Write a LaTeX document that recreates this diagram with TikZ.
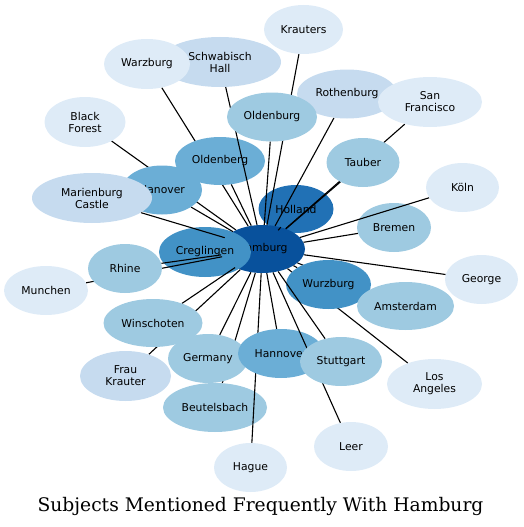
\documentclass[tikz,border=0pt]{standalone}
\usepackage{fontspec}
\usetikzlibrary{shapes.geometric}
\newfontfamily\labfont{DejaVu Sans}
\newfontfamily\titlefont{DejaVu Serif}
\definecolor{bA}{HTML}{DEEBF7}
\definecolor{bB}{HTML}{C6DBEF}
\definecolor{bC}{HTML}{9ECAE1}
\definecolor{bD}{HTML}{6BAED6}
\definecolor{bE}{HTML}{4292C6}
\definecolor{bF}{HTML}{2171B5}
\definecolor{bG}{HTML}{08519C}
\pgfdeclarelayer{lA}\pgfdeclarelayer{lB}\pgfdeclarelayer{lC}\pgfdeclarelayer{lD}
\pgfdeclarelayer{lE}\pgfdeclarelayer{lF}\pgfdeclarelayer{lG}\pgfdeclarelayer{lH}
\pgfsetlayers{lA,lB,lC,lD,lE,lF,lG,lH,main}
\tikzset{
  nd/.style={ellipse, draw=none, inner sep=0pt, minimum height=49pt, align=center,
    font=\labfont\fontsize{10.8}{12}\selectfont, text=black},
  edge/.style={draw=black, line width=1.1pt},
}
\begin{document}
\begin{tikzpicture}[x=1pt,y=-1pt]
\useasboundingbox (0,0) rectangle (523,527);
% ---------- nodes ----------
\begin{pgfonlayer}{lA}
\node[nd,fill=bF,minimum width=75pt,minimum height=48pt] (holland) at (296,209) {Holland};
\node[nd,fill=bG,minimum width=85pt,minimum height=48pt] (hamburg) at (262.5,249) {Hamburg};
\end{pgfonlayer}
\begin{pgfonlayer}{lB}
\node[nd,fill=bE,minimum width=92pt,minimum height=50pt] (creglingen) at (205,252) {Creglingen};
\end{pgfonlayer}
\begin{pgfonlayer}{lD}
\node[nd,fill=bC,minimum width=104pt] (beutelsbach) at (215,407.5) {Beutelsbach};
\node[nd,fill=bD,minimum width=90pt,minimum height=48pt] (oldenberg) at (220,161) {Oldenberg};
\node[nd,fill=bC,minimum width=74pt] (bremen) at (394,227.5) {Bremen};
\end{pgfonlayer}
\begin{pgfonlayer}{lF}
\node[nd,fill=bB,minimum width=122pt,minimum height=50pt] (schwabisch) at (220,62) {Schwabisch\\Hall};
\node[nd,fill=bA,minimum width=86pt,minimum height=50pt] (warzburg) at (147,64) {Warzburg};
\node[nd,fill=bA,minimum width=79pt] (krauters) at (303.5,29.5) {Krauters};
\node[nd,fill=bB,minimum width=100pt] (rothenburg) at (347,94) {Rothenburg};
\node[nd,fill=bC,minimum width=90pt] (oldenburg) at (272,117) {Oldenburg};
\node[nd,fill=bA,minimum width=104pt,minimum height=50pt] (sanfrancisco) at (430,102) {San\\Francisco};
\node[nd,fill=bC,minimum width=73pt] (tauber) at (363,162.5) {Tauber};
\node[nd,fill=bA,minimum width=73pt] (koln) at (462.5,187.5) {Köln};
\node[nd,fill=bA,minimum width=73pt] (george) at (481.5,279.5) {George};
\node[nd,fill=bE,minimum width=85pt] (wurzburg) at (328.5,284.5) {Wurzburg};
\node[nd,fill=bC,minimum width=97pt,minimum height=48pt] (amsterdam) at (405.5,306) {Amsterdam};
\node[nd,fill=bA,minimum width=95pt,minimum height=50pt] (losangeles) at (434.5,384) {Los\\Angeles};
\node[nd,fill=bC,minimum width=74pt] (rhine) at (125,268.5) {Rhine};
\node[nd,fill=bA,minimum width=84pt] (munchen) at (46,290.5) {Munchen};
\node[nd,fill=bD,minimum width=80pt] (hanover) at (162,190) {Hanover};
\node[nd,fill=bB,minimum width=120pt,minimum height=50pt] (marienburg) at (92,198) {Marienburg\\Castle};
\node[nd,fill=bA,minimum width=81pt,minimum height=50pt] (blackforest) at (85,122) {Black\\Forest};
\node[nd,fill=bB,minimum width=91pt,minimum height=50pt] (fraukrauter) at (125.5,376) {Frau\\Krauter};
\node[nd,fill=bC,minimum width=99pt,minimum height=48pt] (winschoten) at (153,323) {Winschoten};
\node[nd,fill=bC,minimum width=80pt] (germany) at (208,358.5) {Germany};
\node[nd,fill=bD,minimum width=86pt] (hannover) at (281,353.5) {Hannover};
\node[nd,fill=bA,minimum width=73pt] (hague) at (250.5,467.5) {Hague};
\end{pgfonlayer}
\begin{pgfonlayer}{lH}
\node[nd,fill=bC,minimum width=82pt] (stuttgart) at (341,361.5) {Stuttgart};
\node[nd,fill=bA,minimum width=74pt] (leer) at (351,446.5) {Leer};
\end{pgfonlayer}
% ---------- connectors ----------
\begin{pgfonlayer}{lA}
\draw[edge] (holland) -- (hamburg);
\draw[edge] (creglingen) -- (hamburg);
\end{pgfonlayer}
\begin{pgfonlayer}{lC}
\foreach \n in {krauters,warzburg,blackforest,munchen,rhine,marienburg,fraukrauter,
  beutelsbach,losangeles,amsterdam,george,sanfrancisco,rothenburg,tauber,oldenburg,
  oldenberg,hanover,winschoten,germany,wurzburg,bremen,hannover}
  {\draw[edge] (\n) -- (hamburg);}
\end{pgfonlayer}
\begin{pgfonlayer}{lE}
\draw[edge] (hague) -- (hamburg);
\draw[edge] (schwabisch) -- (hamburg);
\draw[edge] (koln) -- (hamburg);
\end{pgfonlayer}
\begin{pgfonlayer}{lG}
\draw[edge] (leer) -- (hamburg);
\draw[edge] (stuttgart) -- (hamburg);
\end{pgfonlayer}
% ---------- title ----------
\node[anchor=base, inner sep=0pt, font=\titlefont\fontsize{18.7}{22}\selectfont] (title) at (260.5,511.5) {Subjects Mentioned Frequently With Hamburg};
\end{tikzpicture}
\end{document}
